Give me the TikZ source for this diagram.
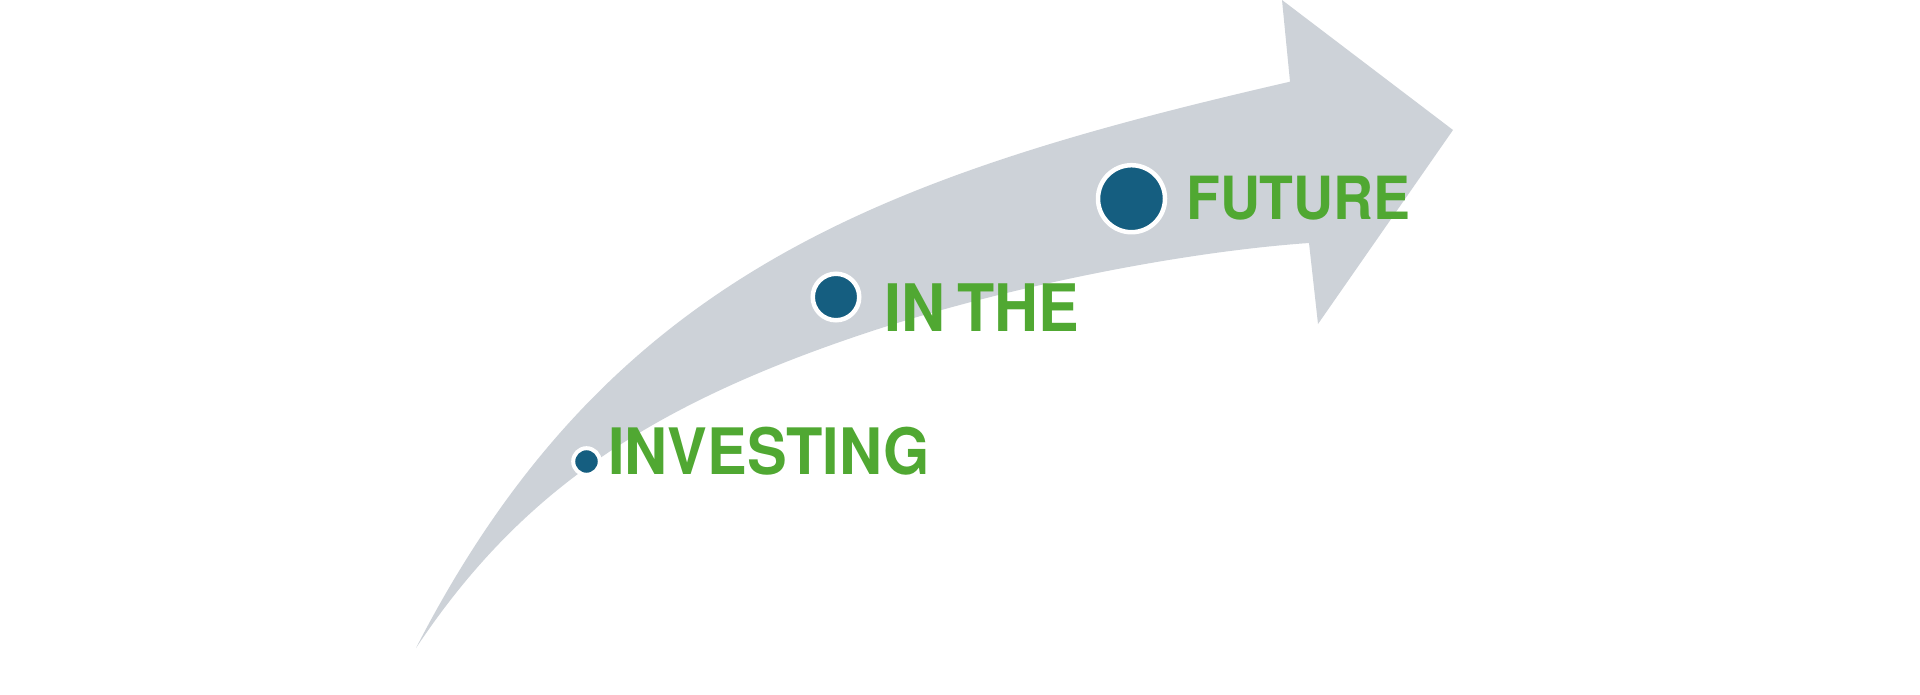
\documentclass[tikz,border=0pt]{standalone}
\usepackage{fontspec}
\setmainfont{Liberation Sans}
\newfontfamily\labfont{texgyreheros-bold.otf}[FakeStretch=0.93]
\newfontfamily\labfontB{texgyreheros-bold.otf}[FakeStretch=0.93, WordSpace=0.7]
\definecolor{arrowgray}{RGB}{205,210,216}
\definecolor{dotblue}{RGB}{21,94,128}
\definecolor{labgreen}{RGB}{80,168,50}
\begin{document}
\begin{tikzpicture}[x=1pt,y=-1pt,
  dotstyle/.style={circle, fill=dotblue, draw=white, inner sep=0pt},
  labstyle/.style={anchor=base west, inner sep=0pt, text=labgreen}]
\useasboundingbox (0,0) rectangle (1920,695);
% curved arrow
\fill[arrowgray]
  (416,648) .. controls (608,274.6) and (880.7,175.8) .. (1290,81.7)
  -- (1282,0) -- (1453,130) -- (1318,324) -- (1309,243)
  .. controls (1179.2,252.1) and (1003.7,287.6) .. (870,331.7)
  .. controls (645.5,405.8) and (518.5,494.3) .. (416,648)
  -- cycle;
% dots
\node[dotstyle, minimum size=26.6pt, line width=4pt] (d1) at (586.5,461.5) {};
\node[dotstyle, minimum size=46.5pt, line width=4.5pt] (d2) at (836,297) {};
\node[dotstyle, minimum size=67pt, line width=4.5pt] (d3) at (1131.5,198.7) {};
% labels
\node[labstyle, font=\labfont\fontsize{64}{70}\selectfont] (t1) at (608,474.3) {INVESTING};
\node[labstyle, font=\labfontB\fontsize{65.5}{70}\selectfont] (t2) at (884.5,331) {IN THE};
\node[labstyle, font=\labfont\fontsize{59.5}{66}\selectfont] (t3) at (1186,220) {FUTURE};
\end{tikzpicture}
\end{document}
